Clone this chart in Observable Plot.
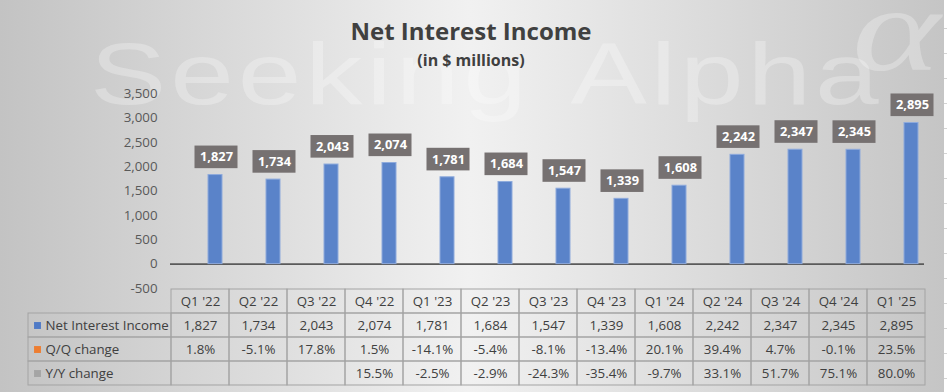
<!DOCTYPE html>
<html>
<head>
<meta charset="utf-8">
<script src="https://cdn.jsdelivr.net/npm/d3@7"></script>
<script src="https://cdn.jsdelivr.net/npm/@observablehq/plot@0.6"></script>
<style>
  html, body { margin: 0; padding: 0; }
  #wrap {
    position: relative; width: 947px; height: 392px; overflow: hidden;
    background: linear-gradient(90deg, #c3c3c3 0px, #f1f1f1 470px, #c5c5c5 944px, #ffffff 944px);
    font-family: "Open Sans", sans-serif;
  }
  #strip {
    position: absolute; left: 944px; top: 0; width: 3px; height: 392px;
    background: repeating-linear-gradient(180deg, #ffffff 0px, #ffffff 24px, #d4d4d4 24px, #d4d4d4 25px);
    background-position: 0 4px;
  }
  #wm {
    position: absolute; left: 90px; top: 30px; font-family: "Liberation Sans", Arial, sans-serif;
    font-size: 88px; line-height: 1; letter-spacing: 3px; word-spacing: 8px; color: rgba(255,255,255,0.28); white-space: nowrap;
    transform: scaleX(1.3); transform-origin: 0 0;
  }
  #wma {
    position: absolute; left: 852px; top: -30px; font-family: "Liberation Serif", serif; font-style: italic;
    font-size: 120px; line-height: 1; color: rgba(255,255,255,0.28);
    transform: scaleX(1.4); transform-origin: 0 0;
  }
  .title { position: absolute; left: 0; width: 942px; text-align: center; color: #404040; font-weight: 700; line-height: 1; white-space: nowrap; }
  #t1 { top: 19px; font-size: 24px; }
  #t2 { top: 52px; font-size: 16px; }
  #chart, #table { position: absolute; left: 0; }
  #chart { top: 0; }
  #table { top: 288px; }
  svg { overflow: visible; }
</style>
</head>
<body>
<div id="wrap">
  <div id="strip"></div>
  <div id="wm">Seeking Alpha</div>
  <div id="wma">α</div>
  <div class="title" id="t1">Net Interest Income</div>
  <div class="title" id="t2">(in $ millions)</div>
  <div id="chart"></div>
  <div id="table"></div>
</div>
<script>
// ---- data ----
const quarters = ["Q1 '22","Q2 '22","Q3 '22","Q4 '22","Q1 '23","Q2 '23","Q3 '23","Q4 '23","Q1 '24","Q2 '24","Q3 '24","Q4 '24","Q1 '25"];
const netInterestIncome = [1827,1734,2043,2074,1781,1684,1547,1339,1608,2242,2347,2345,2895];
const qoqChange = [1.8,-5.1,17.8,1.5,-14.1,-5.4,-8.1,-13.4,20.1,39.4,4.7,-0.1,23.5];
const yoyChange = [null,null,null,15.5,-2.5,-2.9,-24.3,-35.4,-9.7,33.1,51.7,75.1,80.0];
const yTicks = [-500,0,500,1000,1500,2000,2500,3000,3500];
const rowNames = ["Net Interest Income","Q/Q change","Y/Y change"];
const rowColors = ["#4f7ac6","#ed7d31","#a5a5a5"];

const fmtNum = d => d.toLocaleString("en-US");
const fmtPct = d => d == null ? "" : d.toFixed(1) + "%";

const bars = quarters.map((q, i) => ({q, v: netInterestIncome[i]}));

const W = 947, ML = 170, MR = 23;

const chart = Plot.plot({
  width: W, height: 392,
  marginTop: 93, marginBottom: 104, marginLeft: ML, marginRight: MR,
  style: {background: "transparent", fontFamily: "'Open Sans', sans-serif", fontSize: "13.3px", overflow: "visible"},
  x: {domain: quarters, padding: 0, axis: null, label: null},
  y: {domain: [-500, 3500], axis: null, label: null},
  marks: [
    Plot.axisY(yTicks, {anchor: "left", label: null, tickSize: 0, tickPadding: 13, tickFormat: fmtNum, fill: "#595959", fontSize: 13.3}),
    Plot.ruleY([0], {stroke: "#5a5a5a", strokeWidth: 1.6}),
    Plot.barY(bars, {x: "q", y: "v", fill: "#5a83c9", stroke: "#8eaadc", strokeWidth: 1, insetLeft: 22, insetRight: 22, dx: 16}),
    Plot.barY(bars, {x: "q", y1: "v", y2: "v", fill: "#767171", insetLeft: 7.5, insetRight: 7.5, insetTop: -29, insetBottom: 6.4, dx: 17}),
    Plot.text(bars, {x: "q", y: "v", text: d => fmtNum(d.v), fill: "white", fontWeight: "bold", fontSize: 12.8, dx: 17, dy: -17.7})
  ]
});
document.getElementById("chart").append(chart);

// ---- table ----
const rowKeys = ["hdr", "nii", "qq", "yy"];
const cells = [];
quarters.forEach((q, i) => {
  cells.push({q, r: "hdr", t: q});
  cells.push({q, r: "nii", t: fmtNum(netInterestIncome[i])});
  cells.push({q, r: "qq", t: fmtPct(qoqChange[i])});
  cells.push({q, r: "yy", t: fmtPct(yoyChange[i])});
});
const rows = rowNames.map((name, i) => ({r: rowKeys[i + 1], name, color: rowColors[i]}));

const table = Plot.plot({
  width: W, height: 97,
  marginTop: 0.5, marginBottom: 0.5, marginLeft: ML + 0.5, marginRight: MR - 0.5,
  style: {background: "transparent", fontFamily: "'Open Sans', sans-serif", fontSize: "13.3px", overflow: "visible"},
  x: {domain: quarters, padding: 0, axis: null, label: null},
  y: {domain: rowKeys, padding: 0, axis: null, label: null},
  marks: [
    Plot.cell(cells, {x: "q", y: "r", fill: "none", stroke: "#a3a3a3", strokeWidth: 1}),
    Plot.cell(rows, {x: () => quarters[0], y: "r", fill: "none", stroke: "#a3a3a3", strokeWidth: 1, insetLeft: -143, insetRight: 58}),
    Plot.text(cells, {x: "q", y: "r", text: "t", fill: "#404040", fontSize: 13.3}),
    Plot.dot(rows, {y: "r", frameAnchor: "left", dx: -133.5, symbol: "square", r: 3.9, fill: "color"}),
    Plot.text(rows, {y: "r", frameAnchor: "left", dx: -125.5, text: "name", textAnchor: "start", fill: "#404040", fontSize: 13.3})
  ]
});
document.getElementById("table").append(table);
</script>
</body>
</html>
